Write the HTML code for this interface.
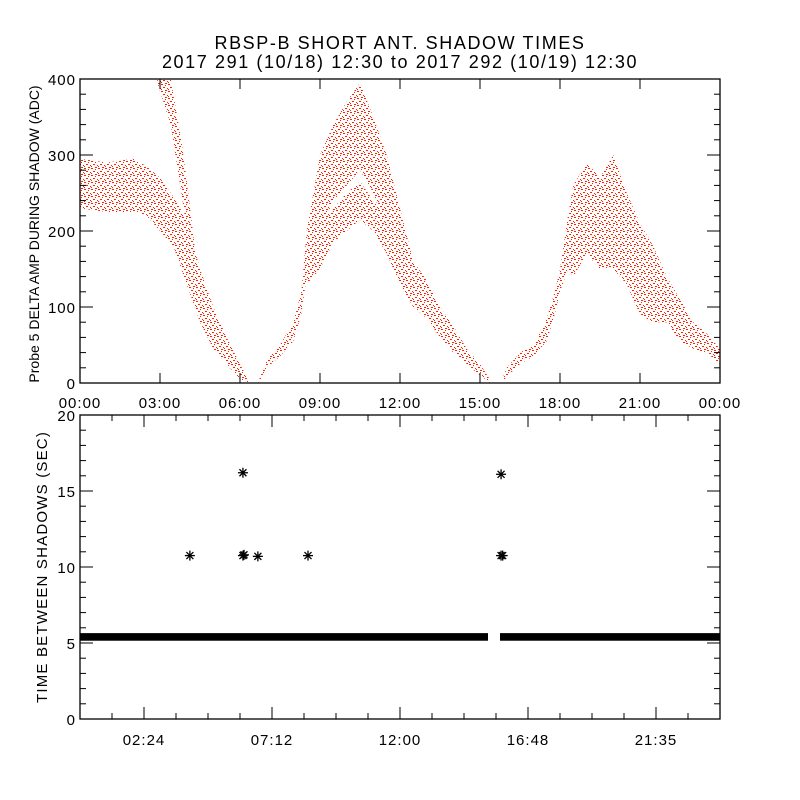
<!DOCTYPE html>
<html><head><meta charset="utf-8"><style>
html,body{margin:0;padding:0;background:#fff;}
svg{display:block;font-family:"Liberation Sans",sans-serif;}
</style></head><body>
<svg id="chart" width="800" height="800" viewBox="0 0 800 800">
<defs>
<pattern id="dots" width="7" height="7" patternUnits="userSpaceOnUse">
<rect x="0" y="0" width="2" height="1" fill="#ff2200"/>
<rect x="4" y="1" width="1" height="1" fill="#ff2200"/>
<rect x="2" y="3" width="2" height="1" fill="#ff2200"/>
<rect x="6" y="4" width="1" height="1" fill="#ff2200"/>
<rect x="0" y="5" width="1" height="1" fill="#ff2200"/>
<rect x="4" y="6" width="2" height="1" fill="#ff2200"/>
</pattern>
</defs>
<rect width="800" height="800" fill="#fff"/>
<text x="400" y="49" text-anchor="middle" font-size="18" letter-spacing="1.6">RBSP-B SHORT ANT. SHADOW TIMES</text>
<text x="400" y="68" text-anchor="middle" font-size="18" letter-spacing="1.6">2017 291 (10/18) 12:30 to 2017 292 (10/19) 12:30</text>
<g id="topPanel"></g>
<g id="botPanel"></g>
</svg>
<script>
// ---- top panel data (hours, ADC envelope low/high) ----
const bandATime = [0, 1, 2, 2.5, 3, 3.5, 4, 4.5, 5, 5.5, 6, 6.3];
const bandALow  = [230, 225, 225, 220, 200, 180, 130, 80, 45, 25, 5, 0];
const bandAHigh = [295, 290, 295, 285, 270, 245, 215, 150, 100, 60, 25, 5];
const bandBTime = [2.9, 3.4, 3.8, 4.1, 4.4];
const bandBLow  = [395, 340, 250, 180, 100];
const bandBHigh = [405, 400, 320, 240, 150];
const bandCTime = [6.7, 7, 7.5, 8, 8.3, 8.5, 9, 9.5, 10, 10.5, 11, 11.5, 12, 12.5, 13, 13.5, 14, 14.5, 15, 15.4];
const bandCLow  = [0, 20, 35, 55, 90, 140, 200, 240, 260, 280, 250, 200, 150, 100, 85, 60, 40, 25, 10, 0];
const bandCHigh = [3, 30, 50, 80, 120, 200, 300, 340, 370, 395, 350, 300, 230, 160, 135, 100, 75, 45, 25, 3];
const bandDTime = [8.5, 9, 9.5, 10, 10.5, 11, 11.5, 12, 12.5];
const bandDLow  = [130, 150, 185, 200, 215, 200, 170, 130, 100];
const bandDHigh = [170, 210, 230, 250, 265, 240, 220, 180, 160];
const bandETime = [15.8, 16, 16.5, 17, 17.5, 17.8, 18, 18.3, 18.5, 19, 19.5, 20, 20.5, 21, 21.5, 22, 22.5, 23, 23.5, 24];
const bandELow  = [0, 8, 25, 35, 55, 90, 120, 150, 140, 170, 150, 150, 130, 90, 80, 80, 55, 45, 40, 25];
const bandEHigh = [2, 20, 40, 50, 85, 120, 150, 220, 260, 290, 270, 300, 250, 210, 180, 140, 110, 80, 65, 45];
const topXTicks = ["00:00","03:00","06:00","09:00","12:00","15:00","18:00","21:00","00:00"];
const topYTicks = [0, 100, 200, 300, 400];
// ---- bottom panel data ----
const starTime  = [4.12, 6.11, 6.11, 6.15, 6.67, 8.55, 15.79, 15.79, 15.85];
const starValue = [10.75, 10.75, 16.2, 10.8, 10.7, 10.75, 16.1, 10.75, 10.75];
const baseStart = [0, 15.75];
const baseEnd   = [15.3, 24];
const baseValue = [5.4, 5.4];
const botXTicks = ["02:24","07:12","12:00","16:48","21:35"];
const botYTicks = [0, 5, 10, 15, 20];

const NS = "http://www.w3.org/2000/svg";
function mk(tag, attrs, parent){const e=document.createElementNS(NS,tag);for(const k in attrs)e.setAttribute(k,attrs[k]);parent.appendChild(e);return e;}
const L=80,R=720;
const xT = h => L + h/24*(R-L);
const T0=79,T1=383, yT = v => T1 - v/400*(T1-T0);
const B0=415,B1=719, yB = v => B1 - v/20*(B1-B0);
const topG=document.getElementById('topPanel'), botG=document.getElementById('botPanel');

function band(t, lo, hi, name){
  let pts=[];
  for(let i=0;i<t.length;i++) pts.push(xT(t[i]).toFixed(1)+','+Math.max(T0,yT(hi[i])).toFixed(1));
  for(let i=t.length-1;i>=0;i--) pts.push(xT(t[i]).toFixed(1)+','+Math.max(T0,yT(lo[i])).toFixed(1));
  const p=mk('polygon',{points:pts.join(' '),fill:'url(#dots)'},topG);
  
  
}
band(bandATime,bandALow,bandAHigh,'band-morning');
band(bandBTime,bandBLow,bandBHigh,'band-steep-fall');
band(bandCTime,bandCLow,bandCHigh,'band-midday-upper');
band(bandDTime,bandDLow,bandDHigh,'band-midday-lower');
band(bandETime,bandELow,bandEHigh,'band-evening');

const tf=mk('rect',{x:L,y:T0,width:R-L,height:T1-T0,fill:'none',stroke:'#000','stroke-width':1.3},topG);


topXTicks.forEach((lab,i)=>{
  const x=xT(i*3);
  mk('line',{x1:x,x2:x,y1:T1,y2:T1-10,stroke:'#000'},topG);
  mk('line',{x1:x,x2:x,y1:T0,y2:T0+10,stroke:'#000'},topG);
  const t=mk('text',{x:x,y:T1+25,'text-anchor':'middle','font-size':15,'letter-spacing':1},topG);
  t.textContent=lab;
  
  
});
for(let v=0;v<=400;v+=20){
  const y=yT(v), len=(v%100===0)?13:6;
  mk('line',{x1:L,x2:L+len,y1:y,y2:y,stroke:'#000'},topG);
  mk('line',{x1:R,x2:R-len,y1:y,y2:y,stroke:'#000'},topG);
}
topYTicks.forEach(v=>{
  const t=mk('text',{x:L-4,y:yT(v)+6,'text-anchor':'end','font-size':15,'letter-spacing':1},topG);
  t.textContent=v;
  
  
});
const ty=mk('text',{x:0,y:0,'text-anchor':'middle','font-size':14,transform:'translate(39,234) rotate(-90)'},topG);
ty.textContent='Probe 5 DELTA AMP DURING SHADOW (ADC)';



baseStart.forEach((s,i)=>{
  const r=mk('rect',{x:xT(s),y:yB(baseValue[i]+0.25),width:xT(baseEnd[i])-xT(s),height:yB(baseValue[i]-0.25)-yB(baseValue[i]+0.25),fill:'#000'},botG);
  
  
});
starTime.forEach((h,i)=>{
  const cx=xT(h), cy=yB(starValue[i]), s=5;
  const g=mk('g',{stroke:'#000','stroke-width':1.3},botG);
  
  
  mk('line',{x1:cx,x2:cx,y1:cy-s,y2:cy+s},g);
  mk('line',{x1:cx-s,x2:cx+s,y1:cy,y2:cy},g);
  mk('line',{x1:cx-s*0.7,x2:cx+s*0.7,y1:cy-s*0.7,y2:cy+s*0.7},g);
  mk('line',{x1:cx-s*0.7,x2:cx+s*0.7,y1:cy+s*0.7,y2:cy-s*0.7},g);
});
const bf=mk('rect',{x:L,y:B0,width:R-L,height:B1-B0,fill:'none',stroke:'#000','stroke-width':1.3},botG);


for(let k=1;k<20;k++){
  const x=L+k*32, len=(k%4===2)?12:6;
  mk('line',{x1:x,x2:x,y1:B1,y2:B1-len,stroke:'#000'},botG);
  mk('line',{x1:x,x2:x,y1:B0,y2:B0+len,stroke:'#000'},botG);
}
botXTicks.forEach((lab,i)=>{
  const t=mk('text',{x:L+64+i*128,y:B1+26,'text-anchor':'middle','font-size':15,'letter-spacing':1},botG);
  t.textContent=lab;
  
  
});
for(let v=0;v<=20;v++){
  const y=yB(v), len=(v%5===0)?13:6;
  mk('line',{x1:L,x2:L+len,y1:y,y2:y,stroke:'#000'},botG);
  mk('line',{x1:R,x2:R-len,y1:y,y2:y,stroke:'#000'},botG);
}
botYTicks.forEach(v=>{
  const t=mk('text',{x:L-4,y:yB(v)+6,'text-anchor':'end','font-size':15,'letter-spacing':1},botG);
  t.textContent=v;
  
  
});
const by=mk('text',{x:0,y:0,'text-anchor':'middle','font-size':15,'letter-spacing':1.2,transform:'translate(47,567) rotate(-90)'},botG);
by.textContent='TIME BETWEEN SHADOWS (SEC)';


</script>
</body></html>
